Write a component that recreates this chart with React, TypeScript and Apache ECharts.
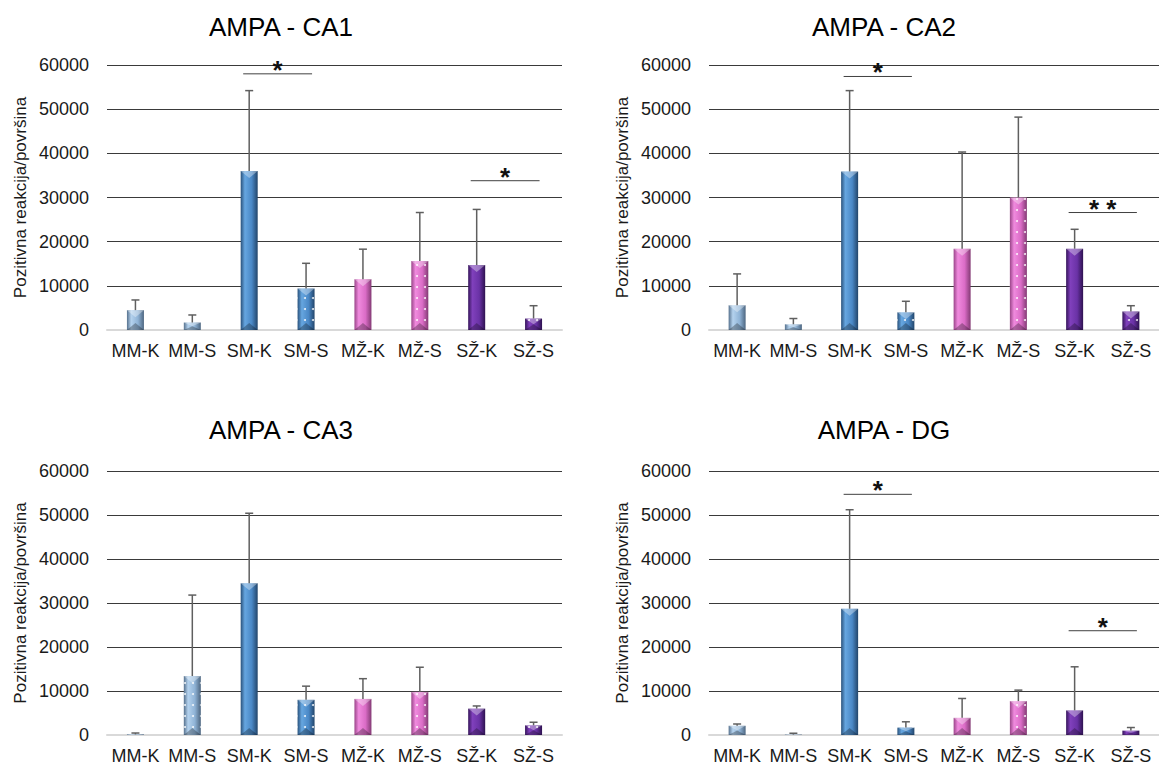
import React, { useEffect, useRef } from 'react';
import * as echarts from 'echarts';

const categories = ['MM-K', 'MM-S', 'SM-K', 'SM-S', 'MŽ-K', 'MŽ-S', 'SŽ-K', 'SŽ-S'];
const titles = ['AMPA - CA1', 'AMPA - CA2', 'AMPA - CA3', 'AMPA - DG'];
const yAxisName = 'Pozitivna reakcija/površina';

// mean values
const ca1Means = [4500, 1700, 36000, 9400, 11500, 15600, 14700, 2600];
const ca2Means = [5600, 1300, 35900, 4000, 18400, 30000, 18400, 4200];
const ca3Means = [150, 13400, 34500, 8000, 8200, 9800, 6000, 2200];
const dgMeans = [2100, 100, 28700, 1700, 3900, 7700, 5600, 1000];

// standard deviations (upward error bars)
const ca1Sd = [2300, 1700, 18200, 5700, 6800, 11000, 12600, 2900];
const ca2Sd = [7100, 1300, 18300, 2500, 21900, 18200, 4400, 1300];
const ca3Sd = [300, 18400, 15900, 3100, 4600, 5600, 600, 700];
const dgSd = [400, 300, 22500, 1300, 4400, 2500, 9900, 700];

// significance brackets: [fromCategory, toCategory, yValue, number of stars]
const ca1Sig = [[2, 3, 58000, 1], [6, 7, 33800, 1]];
const ca2Sig = [[2, 3, 57400, 1], [6, 7, 26600, 2]];
const ca3Sig: number[][] = [];
const dgSig = [[2, 3, 54700, 1], [6, 7, 23700, 1]];

const panels = [
  { title: titles[0], means: ca1Means, sd: ca1Sd, sig: ca1Sig },
  { title: titles[1], means: ca2Means, sd: ca2Sd, sig: ca2Sig },
  { title: titles[2], means: ca3Means, sd: ca3Sd, sig: ca3Sig },
  { title: titles[3], means: dgMeans, sd: dgSd, sig: dgSig },
];

const layout = [
  { left: 107, top: 65, titleX: 281, titleY: 27 },
  { left: 709, top: 65, titleX: 884, titleY: 27 },
  { left: 107, top: 471, titleX: 281, titleY: 430 },
  { left: 709, top: 471, titleX: 884, titleY: 430 },
];

const FONT = 'Liberation Sans, Arial, sans-serif';
const BAR_W = 17;

const palette: string[][] = [
  ['#56718d', '#b4d2ee', '#8fb3d6', '#4d6680'],
  ['#2a527c', '#66a6e0', '#4a88c6', '#22456a'],
  ['#9a4589', '#f08ade', '#da6cc6', '#833a74'],
  ['#35145a', '#8040bc', '#6a32a6', '#2e1250'],
];

function grad(c: string[]) {
  return new echarts.graphic.LinearGradient(0, 0, 1, 0, [
    { offset: 0, color: c[0] },
    { offset: 0.25, color: c[1] },
    { offset: 0.65, color: c[2] },
    { offset: 1, color: c[3] },
  ]);
}

function buildOption() {
  const grid: any[] = [];
  const xAxis: any[] = [];
  const yAxis: any[] = [];
  const series: any[] = [];
  const graphic: any[] = [];

  panels.forEach((p, i) => {
    const L = layout[i];
    grid.push({ left: L.left, top: L.top, width: 455, height: 265, containLabel: false });
    xAxis.push({
      type: 'category',
      gridIndex: i,
      data: categories,
      axisTick: { show: false },
      axisLine: { show: true, lineStyle: { color: '#d9d9d9', width: 2 } },
      axisLabel: { interval: 0, margin: 12, fontSize: 18, color: '#1a1a1a', fontFamily: FONT },
    });
    yAxis.push({
      type: 'value',
      gridIndex: i,
      min: 0,
      max: 60000,
      interval: 10000,
      name: yAxisName,
      nameLocation: 'middle',
      nameGap: 78,
      nameTextStyle: { fontSize: 17, color: '#1a1a1a', fontFamily: FONT },
      axisLine: { show: false },
      axisTick: { show: false },
      axisLabel: {
        margin: 18,
        fontSize: 18,
        color: '#1a1a1a',
        fontFamily: FONT,
        formatter: (v: number) => String(v),
      },
      splitLine: {
        show: true,
        lineStyle: { color: ['#d9d9d9', '#3a3a3a', '#3a3a3a', '#3a3a3a', '#3a3a3a', '#3a3a3a', '#3a3a3a'], width: 1 },
      },
    });
    series.push({
      type: 'bar',
      xAxisIndex: i,
      yAxisIndex: i,
      barWidth: BAR_W,
      z: 2,
      data: p.means.map((v, k) => {
        const item: any = {
          value: v,
          itemStyle: { color: grad(palette[Math.floor(k / 2)]) },
        };
        if (k % 2 === 1) {
          item.itemStyle.decal = {
            symbol: 'circle',
            symbolSize: 1,
            color: 'rgba(255,255,255,0.85)',
            dashArrayX: [2, 6],
            dashArrayY: [2, 9],
          };
        }
        return item;
      }),
    });
    // bevel facets on the bars
    series.push({
      type: 'custom',
      xAxisIndex: i,
      yAxisIndex: i,
      z: 2.5,
      silent: true,
      data: p.means.map((m, k) => [k, m]),
      renderItem: (params: any, api: any) => {
        const base = api.coord([api.value(0), 0]);
        const top = api.coord([api.value(0), api.value(1)]);
        const hw = BAR_W / 2;
        const x = base[0];
        const h = base[1] - top[1];
        const t = Math.min(7, h / 2);
        return {
          type: 'group',
          children: [
            {
              type: 'polygon',
              shape: { points: [[x - hw, top[1]], [x + hw, top[1]], [x, top[1] + t]] },
              style: { fill: 'rgba(255,255,255,0.35)' },
            },
            {
              type: 'polygon',
              shape: { points: [[x - hw, base[1]], [x + hw, base[1]], [x, base[1] - t]] },
              style: { fill: 'rgba(0,0,0,0.28)' },
            },
          ],
        };
      },
    });
    series.push({
      type: 'custom',
      xAxisIndex: i,
      yAxisIndex: i,
      z: 3,
      data: p.means.map((m, k) => [k, m, m + p.sd[k]]),
      renderItem: (params: any, api: any) => {
        const base = api.coord([api.value(0), api.value(1)]);
        const top = api.coord([api.value(0), api.value(2)]);
        const st = { stroke: '#5f5f5f', lineWidth: 1.5 };
        return {
          type: 'group',
          children: [
            { type: 'line', shape: { x1: base[0], y1: base[1], x2: top[0], y2: top[1] }, style: st },
            { type: 'line', shape: { x1: top[0] - 4, y1: top[1], x2: top[0] + 4, y2: top[1] }, style: st },
          ],
        };
      },
    });
    if (p.sig.length) {
      series.push({
        type: 'custom',
        xAxisIndex: i,
        yAxisIndex: i,
        z: 4,
        data: p.sig,
        renderItem: (params: any, api: any) => {
          const a = api.coord([api.value(0), api.value(2)]);
          const b = api.coord([api.value(1), api.value(2)]);
          const n = api.value(3);
          const x1 = a[0] - 6;
          const x2 = b[0] + 6;
          return {
            type: 'group',
            children: [
              { type: 'line', shape: { x1, y1: a[1], x2, y2: a[1] }, style: { stroke: '#404040', lineWidth: 1 } },
              {
                type: 'text',
                x: (x1 + x2) / 2,
                y: a[1] - 4,
                style: {
                  text: n > 1 ? '* *' : '*',
                  fontSize: 26,
                  fontWeight: 'bold',
                  fontFamily: FONT,
                  fill: '#111',
                  align: 'center',
                  verticalAlign: 'middle',
                },
              },
            ],
          };
        },
      });
    }
    graphic.push({
      type: 'text',
      x: L.titleX,
      y: L.titleY,
      style: {
        text: p.title,
        fontSize: 26,
        fontFamily: FONT,
        fill: '#000',
        align: 'center',
        verticalAlign: 'middle',
      },
    });
  });

  return {
    animation: false,
    backgroundColor: '#ffffff',
    grid,
    xAxis,
    yAxis,
    series,
    graphic,
  };
}

export default function App() {
  const ref = useRef<HTMLDivElement>(null);
  useEffect(() => {
    document.body.style.margin = '0';
    const chart = echarts.init(ref.current!, null, { renderer: 'svg' });
    chart.setOption(buildOption() as any);
    return () => chart.dispose();
  }, []);
  return <div ref={ref} style={{ width: 1159, height: 765 }} />;
}
